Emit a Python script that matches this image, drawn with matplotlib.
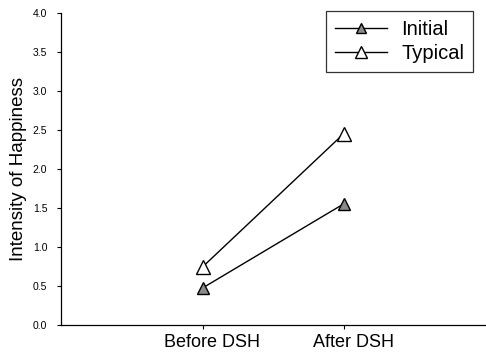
import matplotlib
matplotlib.use("Agg")
import matplotlib.pyplot as plt
from matplotlib.transforms import ScaledTranslation

categories = ["Before DSH", "After DSH"]
initial = [0.47, 1.55]
typical = [0.74, 2.45]
y_ticks = [0.0, 0.5, 1.0, 1.5, 2.0, 2.5, 3.0, 3.5, 4.0]

plt.rcParams["font.family"] = ["Liberation Sans", "DejaVu Sans"]

fig = plt.figure(figsize=(4.86, 3.56), dpi=100)
ax = fig.add_axes([0.126, 0.088, 0.872, 0.876])

x = [1, 2]
ax.plot(x, initial, color="black", lw=1.0, marker="^", markersize=9,
        markerfacecolor="#8a8a8a", markeredgecolor="black", markeredgewidth=1.0,
        label="Initial", zorder=3)
ax.plot(x, typical, color="black", lw=1.0, marker="^", markersize=10,
        markerfacecolor="white", markeredgecolor="black", markeredgewidth=1.0,
        label="Typical", zorder=3)

ax.set_xlim(0, 3)
ax.set_ylim(0, 4)
ax.set_xticks(x)
ax.set_xticklabels(categories, fontsize=13)
ax.set_yticks(y_ticks)
ax.set_yticklabels([f"{v:.1f}" for v in y_ticks], fontsize=7.5)
ax.set_ylabel("Intensity of Happiness", fontsize=13.5, labelpad=4)

for side in ("top", "right"):
    ax.spines[side].set_visible(False)
ax.spines["left"].set_linewidth(0.9)
ax.spines["bottom"].set_linewidth(0.9)
ax.tick_params(axis="y", length=3, width=0.8, pad=7)
ax.tick_params(axis="x", length=3, width=0.8, pad=4)

# category labels sit a little to the right of their ticks
shift = ScaledTranslation(0.10, 0, fig.dpi_scale_trans)
for lab in ax.get_xticklabels():
    lab.set_transform(lab.get_transform() + shift)

leg = ax.legend(loc="upper right", bbox_to_anchor=(0.972, 1.006), fontsize=14.5,
                frameon=True, fancybox=False, edgecolor="black",
                borderaxespad=0, handlelength=2.6, handletextpad=0.7,
                borderpad=0.45, labelspacing=0.25, markerscale=0.8)
leg.get_frame().set_linewidth(0.9)

fig.savefig("out.png", dpi=100)
